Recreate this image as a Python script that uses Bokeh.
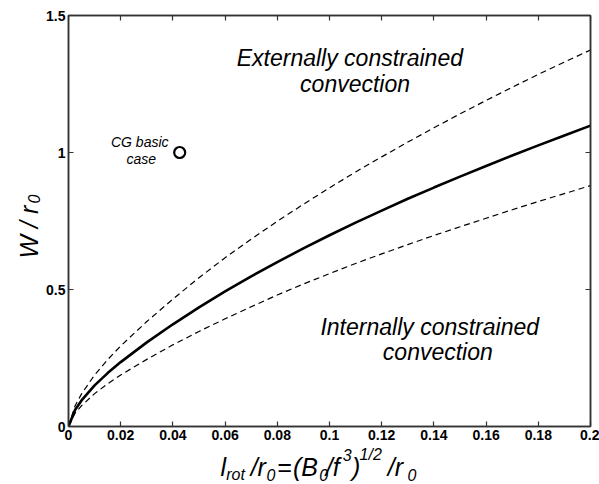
import math
from bokeh.plotting import figure
from bokeh.layouts import row, column
from bokeh.models import Range1d, FixedTicker, Label, LinearAxis, CustomJSTickFormatter
from bokeh.core.properties import value
from bokeh.embed import file_html
from bokeh.resources import INLINE

# ---- data ----
x_vals = [0.0, 0.0025, 0.005, 0.01, 0.015, 0.02, 0.03, 0.04, 0.05, 0.06, 0.07,
          0.08, 0.09, 0.1, 0.11, 0.12, 0.13, 0.14, 0.15, 0.16, 0.17, 0.18, 0.19, 0.2]
w_mid = [0.0, 0.06, 0.095, 0.15, 0.195, 0.235, 0.307, 0.373, 0.435, 0.493, 0.548,
         0.600, 0.650, 0.698, 0.744, 0.788, 0.831, 0.872, 0.912, 0.951, 0.989, 1.026, 1.062, 1.098]
w_upper = [0.0, 0.075, 0.119, 0.188, 0.244, 0.294, 0.383, 0.465, 0.543, 0.616, 0.684,
           0.749, 0.811, 0.871, 0.929, 0.984, 1.038, 1.09, 1.141, 1.19, 1.238, 1.285, 1.33, 1.374]
w_lower = [0.0, 0.048, 0.076, 0.12, 0.156, 0.188, 0.245, 0.298, 0.347, 0.393, 0.437,
           0.48, 0.52, 0.558, 0.595, 0.63, 0.664, 0.697, 0.729, 0.76, 0.791, 0.821, 0.85, 0.879]
cg_x = [0.0426]
cg_y = [1.0]

x_ticks = [0, 0.02, 0.04, 0.06, 0.08, 0.1, 0.12, 0.14, 0.16, 0.18, 0.2]
x_tick_labels = ["0", "0.02", "0.04", "0.06", "0.08", "0.1", "0.12", "0.14", "0.16", "0.18", "0.2"]
y_ticks = [0, 0.5, 1, 1.5]
y_tick_labels = ["0", "0.5", "1", "1.5"]

FONT = "Liberation Sans"
LEFT_W = 43      # width of the y-label strip
MAIN_H = 445     # height of the main figure
WIN_W, WIN_H = 599, 484

p = figure(width=WIN_W - LEFT_W, height=MAIN_H, x_range=Range1d(0, 0.2), y_range=Range1d(0, 1.5),
           output_backend="svg", toolbar_location=None,
           min_border_left=24, min_border_right=9, min_border_top=15, min_border_bottom=19)
p.xgrid.visible = False
p.ygrid.visible = False
p.outline_line_color = "#333333"
p.outline_line_width = 1.5
p.background_fill_color = "white"
p.border_fill_color = "white"

def style_axis(ax, ticks, labels=None):
    ax.ticker = FixedTicker(ticks=ticks)
    ax.major_tick_in = 5
    ax.major_tick_out = 0
    ax.minor_tick_in = 0
    ax.minor_tick_out = 0
    ax.axis_line_color = "#333333"
    ax.axis_line_width = 1.5
    ax.major_tick_line_color = "#333333"
    ax.major_tick_line_width = 1.2
    if labels is not None:
        ax.major_label_overrides = {t: l for t, l in zip(ticks, labels)}
        ax.major_label_text_font = FONT
        ax.major_label_text_font_style = "bold"
        ax.major_label_text_font_size = "14px"
        ax.major_label_text_color = "black"
        ax.major_label_standoff = 3
    else:
        ax.formatter = CustomJSTickFormatter(code="return '';")
        ax.major_label_standoff = 0
        ax.major_label_text_font_size = "1px"

style_axis(p.xaxis[0], x_ticks, x_tick_labels)
style_axis(p.yaxis[0], y_ticks, y_tick_labels)
top_ax = LinearAxis()
right_ax = LinearAxis()
style_axis(top_ax, x_ticks)
style_axis(right_ax, y_ticks)
p.add_layout(top_ax, "above")
p.add_layout(right_ax, "right")

# ---- curves ----
p.line(x_vals, w_upper, line_color="black", line_width=1.2, line_dash="6 4")
p.line(x_vals, w_lower, line_color="black", line_width=1.2, line_dash="6 4")
p.line(x_vals, w_mid, line_color="black", line_width=2.6)
p.scatter(cg_x, cg_y, marker="circle", size=11, fill_color="white",
          line_color="black", line_width=2.2)

# ---- annotations in the plot ----
def dlabel(x, y, text, size):
    p.add_layout(Label(x=x, y=y, text=text, text_font=FONT, text_font_style="italic",
                       text_font_size=size, text_align="center", text_baseline="middle",
                       text_color="black"))

dlabel(0.1078, 1.346, "Externally constrained", "23px")
dlabel(0.1098, 1.251, "convection", "23px")
dlabel(0.1384, 0.3647, "Internally constrained", "23px")
dlabel(0.1415, 0.2735, "convection", "23px")
dlabel(0.0273, 1.037, "CG basic", "14px")
dlabel(0.0279, 0.977, "case", "14px")

# ---- strip figures (no axes) for the composed axis titles ----
# x coordinate = window pixel x, y coordinate = pixels above the window bottom
def strip(w, h, x0, x1, y0, y1):
    f = figure(width=w, height=h, x_range=Range1d(x0, x1), y_range=Range1d(y0, y1),
               x_axis_type=None, y_axis_type=None,
               output_backend="svg", toolbar_location=None,
               min_border=0, min_border_left=0, min_border_right=0,
               min_border_top=0, min_border_bottom=0)
    f.grid.visible = False
    f.outline_line_color = None
    f.background_fill_color = "white"
    f.border_fill_color = "white"
    return f

xf = strip(WIN_W - LEFT_W, WIN_H - MAIN_H, LEFT_W, WIN_W, 0, WIN_H - MAIN_H)
yf = strip(LEFT_W, WIN_H, 0, LEFT_W, 0, WIN_H)

MAIN_PX, SMALL_PX = 25, 16
MID = 0.3465   # distance from baseline to the middle of the text box, in em

def piece(f, px, base, text, size_px):
    # horizontal piece: base = window-y of the alphabetic baseline
    mid = base - MID * size_px
    f.text(x=[px], y=[WIN_H - mid], text=[text], text_font=value(FONT), text_font_style="italic",
           text_font_size=f"{size_px}px", text_align="left", text_baseline="middle",
           text_color="black")

def vpiece(f, base_x, py, text, size_px):
    # rotated (reads bottom to top): base_x = window-x of the baseline, py = window-y of text start
    mid = base_x - MID * size_px
    f.text(x=[mid], y=[WIN_H - py], text=[text], text_font=value(FONT), text_font_style="italic",
           text_font_size=f"{size_px}px", text_align="left", text_baseline="middle",
           angle=math.pi / 2, text_color="black")

BASE, SUB, SUP = 475, 480, 460
piece(xf, 205, BASE, "l", MAIN_PX)
piece(xf, 211, SUB, "rot", SMALL_PX)
piece(xf, 237, BASE, "/r", MAIN_PX)
piece(xf, 254, SUB, "0", SMALL_PX)
piece(xf, 265, BASE, "=", MAIN_PX)
piece(xf, 282, BASE, "(B", MAIN_PX)
piece(xf, 310, SUB, "0", SMALL_PX)
piece(xf, 317, BASE, "/f", MAIN_PX)
piece(xf, 335, SUP, "3", SMALL_PX)
piece(xf, 345, BASE, ")", MAIN_PX)
piece(xf, 353, SUP, "1/2", SMALL_PX)
piece(xf, 383, BASE, "/r", MAIN_PX)
piece(xf, 404, SUB, "0", SMALL_PX)

vpiece(yf, 37, 258, "W / r", MAIN_PX)
vpiece(yf, 39.5, 203, "0", SMALL_PX)

layout = row(yf, column(p, xf, spacing=0), spacing=0)
open("out.html", "w").write(file_html(layout, INLINE))
